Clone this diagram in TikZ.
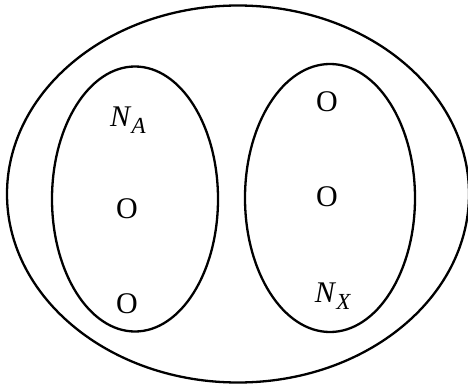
\documentclass[tikz,border=0pt]{standalone}
\usepackage{fontspec}
\setmainfont{Liberation Serif}
\usetikzlibrary{shapes.geometric}

\newcommand{\idx}[2]{\textit{#1}\raisebox{-0.5ex}{\fontsize{23}{23}\selectfont\textit{#2}}}

\begin{document}
\begin{tikzpicture}[
        x=1pt, y=-1pt,
        font=\fontsize{30}{32}\selectfont,
        ring/.style={draw, ellipse, line width=2.3pt, inner sep=0pt},
        atom/.style={inner sep=0pt, anchor=center}
    ]
        \useasboundingbox (0,0) rectangle (468,385);

        % Outer set and the two groups inside it.
        \node[ring, minimum width=462pt, minimum height=377pt] (whole) at (238,194) {};
        \node[ring, minimum width=166pt, minimum height=265pt] (groupA) at (135,199) {};
        \node[ring, minimum width=170pt, minimum height=268pt] (groupX) at (330,198) {};

        % Left group.
        \node[atom] (labelA) at (128,120) {\idx{N}{A}};
        \node[atom] (a1) at (127,209) {O};
        \node[atom] (a2) at (127,304) {O};

        % Right group.
        \node[atom] (x1) at (327,102) {O};
        \node[atom] (x2) at (327,197) {O};
        \node[atom] (labelX) at (333,296) {\idx{N}{X}};
    \end{tikzpicture}
\end{document}
